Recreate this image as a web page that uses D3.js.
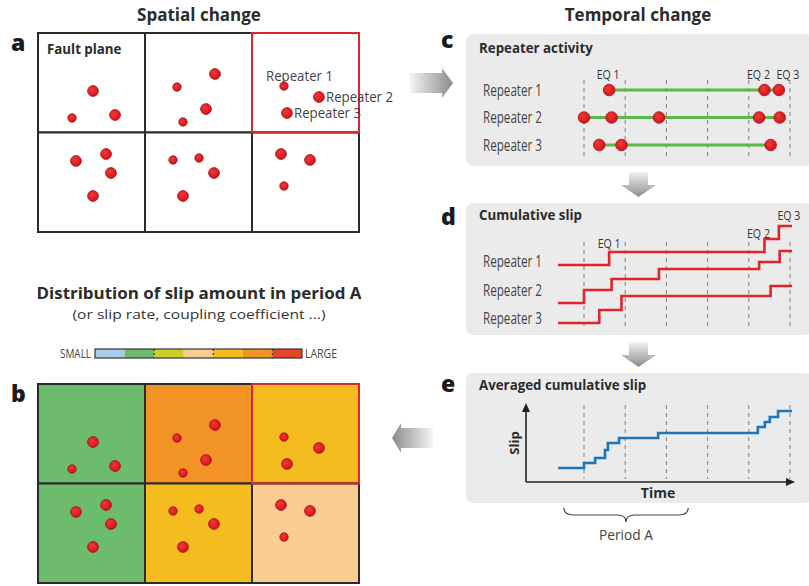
<!DOCTYPE html>
<html><head><meta charset="utf-8">
<script src="https://cdn.jsdelivr.net/npm/d3@7"></script>
<style>body{margin:0;background:#fff}svg{display:block}</style>
</head><body>
<script>
// ---------------- DATA ----------------
// fault plane cells (3 x 2 grid)
const cellCols = [0, 1, 2, 0, 1, 2];
const cellRows = [0, 0, 0, 1, 1, 1];
const cellSlipClass = [1, 5, 4, 1, 4, 3];   // index into colour classes (period A slip)
const highlightCell = 2;
// colour scale classes (small -> large)
const slipClasses = [0, 1, 2, 3, 4, 5, 6];
const slipClassColors = ["#a8cdea", "#6dbb6c", "#c9cf2c", "#f9cd92", "#f5bc1f", "#f19327", "#e54628"];
const scaleLabels = ["SMALL", "LARGE"];
// repeater locations on the fault plane (plane units: x 0-3, y 0-2) and magnitude class
const dotPlaneX = [0.514, 0.318, 0.720, 1.654, 1.299, 1.570, 1.355, 2.299, 2.626, 2.327,
                   0.355, 0.636, 0.682, 0.514, 1.262, 1.505, 1.645, 1.355, 2.271, 2.542, 2.299];
const dotPlaneY = [0.583, 0.854, 0.824, 0.412, 0.543, 0.764, 0.894, 0.533, 0.643, 0.804,
                   1.286, 1.216, 1.407, 1.638, 1.276, 1.256, 1.407, 1.638, 1.216, 1.276, 1.538];
const dotMag    = [2, 1, 2, 2, 1, 2, 1, 1, 2, 2, 2, 2, 2, 2, 1, 1, 2, 2, 2, 2, 1];
const repeaterDotIndex = [7, 8, 9];
const repeaterNames = ["Repeater 1", "Repeater 2", "Repeater 3"];
// earthquake times of each repeater (time units, dashed grid at 0..5)
const rep1Times = [0.61, 4.38, 4.73];
const rep2Times = [0.00, 0.67, 1.82, 4.25, 4.75];
const rep3Times = [0.37, 0.91, 4.53];
const gridTimes = [0, 1, 2, 3, 4, 5];
const timeStart = -0.63, timeEnd = 5.05;
const eqLabels = ["EQ 1", "EQ 2", "EQ 3"];
const eqTimes = [0.61, 4.38, 4.73];
// cumulative slip levels (arbitrary units) before/after each event
const rep1Slip = [5.8, 7.1, 8.4, 9.7];
const rep2Slip = [2.0, 3.3, 4.4, 5.4, 6.1, 7.2];
const rep3Slip = [0.0, 1.3, 2.7, 3.7];
// averaged cumulative slip
const avgTimes = [0.00, 0.27, 0.51, 0.58, 0.85, 1.80, 4.22, 4.39, 4.51, 4.71];
const avgSlip  = [0.0, 0.83, 1.67, 3.0, 4.17, 5.0, 5.83, 6.83, 7.67, 8.5, 9.5];
const periodA = [-0.49, 2.53];

// ---------------- DRAW ----------------
const W = 809, H = 586;
const svg = d3.select("body").append("svg").attr("width", W).attr("height", H)
  .style("font-family", "'Open Sans', Lato, sans-serif");
svg.append("rect").attr("width", W).attr("height", H).attr("fill", "#fff");
const defs = svg.append("defs");
function grad(id, x1, y1, x2, y2, c1, c2) {
  const g = defs.append("linearGradient").attr("id", id)
    .attr("x1", x1).attr("y1", y1).attr("x2", x2).attr("y2", y2);
  g.append("stop").attr("offset", "0%").attr("stop-color", c1);
  g.append("stop").attr("offset", "100%").attr("stop-color", c2);
}
grad("gRight", "0%", "0%", "100%", "0%", "#f4f4f4", "#8a8a8a");
grad("gLeft", "0%", "0%", "100%", "0%", "#8a8a8a", "#f6f6f6");
grad("gDown", "0%", "0%", "0%", "100%", "#f2f2f2", "#8c8c8c");
const dotGrad = defs.append("radialGradient").attr("id", "gDot").attr("cx", "40%").attr("cy", "38%").attr("r", "65%");
dotGrad.append("stop").attr("offset", "0%").attr("stop-color", "#f03a36");
dotGrad.append("stop").attr("offset", "100%").attr("stop-color", "#d3101a");

const textDark = "#2b2b2b", textGray = "#444";
const rScale = d3.scaleOrdinal().domain([1, 2]).range([4.2, 5.4]);

// ---- titles ----
svg.append("text").attr("x", 199).attr("y", 21).attr("text-anchor", "middle")
  .attr("font-size", 17).attr("font-weight", 700).attr("fill", textDark).text("Spatial change");
svg.append("text").attr("x", 638).attr("y", 21).attr("text-anchor", "middle")
  .attr("font-size", 17).attr("font-weight", 700).attr("fill", textDark).text("Temporal change");
svg.append("text").attr("x", 199).attr("y", 299).attr("text-anchor", "middle")
  .attr("font-size", 16).attr("font-weight", 700).attr("fill", textDark)
  .attr("textLength", 325).attr("lengthAdjust", "spacingAndGlyphs").text("Distribution of slip amount in period A");
svg.append("text").attr("x", 199).attr("y", 319).attr("text-anchor", "middle")
  .attr("font-size", 13.5).attr("fill", "#333")
  .attr("textLength", 253).attr("lengthAdjust", "spacingAndGlyphs").text("(or slip rate, coupling coefficient ...)");

// panel letters
[["a", 11, 51], ["b", 11, 402], ["c", 441, 48], ["d", 441, 225], ["e", 441, 392]].forEach(([t, x, y]) =>
  svg.append("text").attr("x", x).attr("y", y).attr("font-size", 23).attr("font-weight", 800)
    .attr("fill", "#1a1a1a").text(t));

// ---- fault plane panels (a, b) ----
function faultPlane(top, filled) {
  const fx = d3.scaleLinear().domain([0, 3]).range([38, 359]);
  const fy = d3.scaleLinear().domain([0, 2]).range([top, top + 199]);
  const g = svg.append("g");
  g.selectAll("rect.cell").data(cellCols).join("rect").attr("class", "cell")
    .attr("x", (c) => fx(c)).attr("y", (c, i) => fy(cellRows[i]))
    .attr("width", fx(1) - fx(0)).attr("height", fy(1) - fy(0))
    .attr("fill", (c, i) => filled ? slipClassColors[cellSlipClass[i]] : "#fff")
    .attr("stroke", "#2b2b2b").attr("stroke-width", 2);
  g.append("rect").attr("x", fx(cellCols[highlightCell])).attr("y", fy(cellRows[highlightCell]))
    .attr("width", fx(1) - fx(0)).attr("height", fy(1) - fy(0))
    .attr("fill", "none").attr("stroke", "#e0262c").attr("stroke-width", 2);
  g.selectAll("circle").data(dotPlaneX).join("circle")
    .attr("cx", (d) => fx(d)).attr("cy", (d, i) => fy(dotPlaneY[i]))
    .attr("r", (d, i) => rScale(dotMag[i]))
    .attr("fill", "url(#gDot)").attr("stroke", "#a50d14").attr("stroke-width", 0.8);
  return { fx, fy };
}
const A = faultPlane(33, false);
svg.append("text").attr("x", 47).attr("y", 54).attr("font-size", 13.3).attr("font-weight", 700)
  .attr("fill", textDark).text("Fault plane");
// repeater labels
const repLabelOff = [[-18, -10], [7, 0], [7, 0]];
repeaterDotIndex.forEach((di, k) => {
  const o = repLabelOff[k];
  svg.append("text").attr("x", A.fx(dotPlaneX[di]) + o[0]).attr("y", A.fy(dotPlaneY[di]) + o[1] + 5)
    .attr("font-size", 14.5).attr("fill", textGray)
    .attr("textLength", 67).attr("lengthAdjust", "spacingAndGlyphs").text(repeaterNames[k]);
});
faultPlane(384, true);

// colour bar
const cbx = d3.scaleBand().domain(slipClasses).range([95, 302]);
const cb = svg.append("g");
cb.selectAll("rect").data(slipClasses).join("rect")
  .attr("x", (d) => cbx(d)).attr("y", 349).attr("width", cbx.bandwidth()).attr("height", 9)
  .attr("fill", (d) => slipClassColors[d]);
cb.append("rect").attr("x", 95).attr("y", 349).attr("width", 207).attr("height", 9)
  .attr("fill", "none").attr("stroke", "#333").attr("stroke-width", 1.2);
cb.selectAll("line").data([2, 4, 6]).join("line")
  .attr("x1", (d) => cbx(d)).attr("x2", (d) => cbx(d)).attr("y1", 349).attr("y2", 358)
  .attr("stroke", "#333").attr("stroke-width", 1.2).attr("stroke-dasharray", "2,2");
svg.append("text").attr("x", 91).attr("y", 358).attr("text-anchor", "end").attr("font-size", 12)
  .attr("fill", textGray).attr("textLength", 31).attr("lengthAdjust", "spacingAndGlyphs").text(scaleLabels[0]);
svg.append("text").attr("x", 305).attr("y", 358).attr("font-size", 12)
  .attr("fill", textGray).attr("textLength", 32).attr("lengthAdjust", "spacingAndGlyphs").text(scaleLabels[1]);

// ---- right side panels ----
const tx = d3.scaleLinear().domain([0, 5]).range([584, 790]);
function panelBox(y0, y1, title, ty) {
  svg.append("rect").attr("x", 466).attr("y", y0).attr("width", 346).attr("height", y1 - y0)
    .attr("rx", 7).attr("fill", "#ebebeb");
  svg.append("text").attr("x", 479).attr("y", ty).attr("font-size", 13.3).attr("font-weight", 700)
    .attr("fill", textDark).text(title);
}
function dashed(y0, y1) {
  svg.append("g").selectAll("line").data(gridTimes).join("line")
    .attr("x1", (d) => tx(d)).attr("x2", (d) => tx(d)).attr("y1", y0).attr("y2", y1)
    .attr("stroke", "#8a8a8a").attr("stroke-width", 1.1).attr("stroke-dasharray", "4,4");
}
const repTimes = [rep1Times, rep2Times, rep3Times];

// panel c
panelBox(34, 166, "Repeater activity", 53);
dashed(80, 156);
const cy = d3.scalePoint().domain(repeaterNames).range([90, 145]);
repeaterNames.forEach((name, k) => {
  svg.append("text").attr("x", 483).attr("y", cy(name) + 5.5).attr("font-size", 16)
    .attr("fill", textGray).attr("textLength", 59).attr("lengthAdjust", "spacingAndGlyphs").text(name);
  const ts = repTimes[k];
  svg.append("line").attr("x1", tx(d3.min(ts))).attr("x2", tx(d3.max(ts)))
    .attr("y1", cy(name)).attr("y2", cy(name)).attr("stroke", "#5cb84a").attr("stroke-width", 2.8);
  svg.append("g").selectAll("circle").data(ts).join("circle")
    .attr("cx", (d) => tx(d)).attr("cy", cy(name)).attr("r", 5.8)
    .attr("fill", "url(#gDot)").attr("stroke", "#a50d14").attr("stroke-width", 0.8);
});
const eqOffC = [-1, -6, 9];
eqTimes.forEach((t, i) => {
  svg.append("text").attr("x", tx(t) + eqOffC[i]).attr("y", 79).attr("text-anchor", "middle")
    .attr("font-size", 13.5).attr("fill", "#333").attr("textLength", 23)
    .attr("lengthAdjust", "spacingAndGlyphs").text(eqLabels[i]);
});

// panel d
panelBox(203, 335, "Cumulative slip", 220);
dashed(242, 326);
const dy = d3.scaleLinear().domain([0, 10]).range([323, 223]);
const slips = [rep1Slip, rep2Slip, rep3Slip];
const labelDY = [261, 290, 318];
const stepLine = d3.line().curve(d3.curveStepAfter).x((d) => tx(d[0])).y((d) => d[1]);
repeaterNames.forEach((name, k) => {
  svg.append("text").attr("x", 483).attr("y", labelDY[k] + 5.5).attr("font-size", 16)
    .attr("fill", textGray).attr("textLength", 59).attr("lengthAdjust", "spacingAndGlyphs").text(name);
  const ts = [timeStart].concat(repTimes[k]);
  const pts = ts.map((t, i) => [t, dy(slips[k][i])]);
  pts.push([timeEnd, dy(slips[k][slips[k].length - 1])]);
  svg.append("path").attr("d", stepLine(pts)).attr("fill", "none")
    .attr("stroke", "#e2232b").attr("stroke-width", 2.6);
});
const eqOffD = [[0, 248], [-6, 238], [10, 220]];
eqTimes.forEach((t, i) => {
  svg.append("text").attr("x", tx(t) + eqOffD[i][0]).attr("y", eqOffD[i][1]).attr("text-anchor", "middle")
    .attr("font-size", 13.5).attr("fill", "#333").attr("textLength", 23)
    .attr("lengthAdjust", "spacingAndGlyphs").text(eqLabels[i]);
});

// panel e
panelBox(373, 503, "Averaged cumulative slip", 390);
dashed(405, 479);
const ey = d3.scaleLinear().domain([0, 10]).range([468, 408]);
// axes with arrowheads
svg.append("line").attr("x1", 526).attr("x2", 526).attr("y1", 482).attr("y2", 410)
  .attr("stroke", "#222").attr("stroke-width", 1.6);
svg.append("path").attr("d", "M526,403 L522,412 L530,412 Z").attr("fill", "#222");
svg.append("line").attr("x1", 526).attr("x2", 788).attr("y1", 482).attr("y2", 482)
  .attr("stroke", "#222").attr("stroke-width", 1.6);
svg.append("path").attr("d", "M795,482 L786,478 L786,486 Z").attr("fill", "#222");
svg.append("text").attr("transform", "translate(519,443) rotate(-90)").attr("text-anchor", "middle")
  .attr("font-size", 13).attr("font-weight", 700).attr("fill", textDark).text("Slip");
svg.append("text").attr("x", 658).attr("y", 498).attr("text-anchor", "middle")
  .attr("font-size", 14).attr("font-weight", 700).attr("fill", textDark).text("Time");
{
  const ts = [timeStart].concat(avgTimes);
  const pts = ts.map((t, i) => [t, ey(avgSlip[i])]);
  pts.push([timeEnd, ey(avgSlip[avgSlip.length - 1])]);
  svg.append("path").attr("d", stepLine(pts)).attr("fill", "none")
    .attr("stroke", "#1d76bb").attr("stroke-width", 2.6);
}
// Period A brace
{
  const x0 = tx(periodA[0]), x1 = tx(periodA[1]), xm = (x0 + x1) / 2;
  const y0 = 508, y1 = 515, y2 = 522;
  svg.append("path").attr("d",
    `M${x0},${y0} Q${x0},${y1} ${x0 + 10},${y1} L${xm - 9},${y1} Q${xm},${y1} ${xm},${y2} ` +
    `Q${xm},${y1} ${xm + 9},${y1} L${x1 - 10},${y1} Q${x1},${y1} ${x1},${y0}`)
    .attr("fill", "none").attr("stroke", "#444").attr("stroke-width", 1.2);
  svg.append("text").attr("x", xm).attr("y", 540).attr("text-anchor", "middle")
    .attr("font-size", 14).attr("fill", textGray).attr("textLength", 54)
    .attr("lengthAdjust", "spacingAndGlyphs").text("Period A");
}

// ---- block arrows ----
svg.append("path").attr("d", "M410,73 L442,73 L442,68 L453,83 L442,98 L442,93 L410,93 Z")
  .attr("fill", "url(#gRight)");
svg.append("path").attr("d", "M392,438 L401,423 L401,428 L433,428 L433,448 L401,448 L401,453 Z")
  .attr("fill", "url(#gLeft)");
svg.append("path").attr("d", "M629,172 L648,172 L648,185 L656,185 L638.5,197 L621,185 L629,185 Z")
  .attr("fill", "url(#gDown)");
svg.append("path").attr("d", "M629,342 L648,342 L648,355 L656,355 L638.5,367 L621,355 L629,355 Z")
  .attr("fill", "url(#gDown)");
</script>
</body></html>
